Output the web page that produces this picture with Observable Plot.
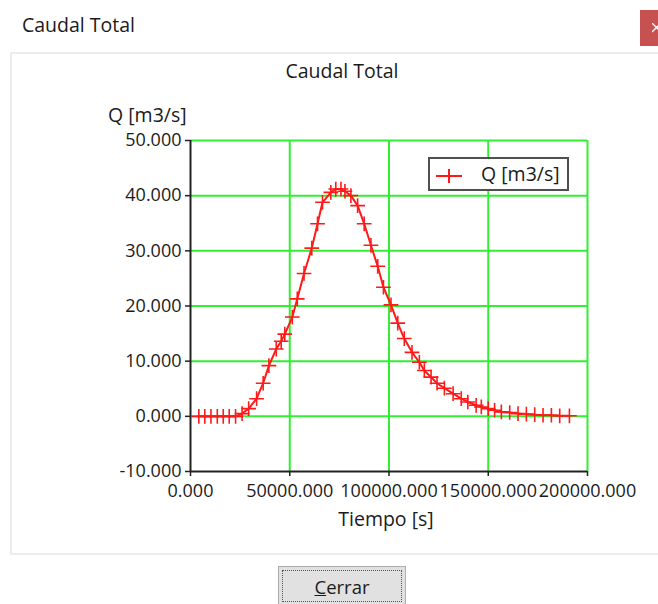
<!DOCTYPE html>
<html><head><meta charset="utf-8">
<script src="https://cdn.jsdelivr.net/npm/d3@7"></script>
<script src="https://cdn.jsdelivr.net/npm/@observablehq/plot@0.6"></script>
<style>
html,body{margin:0;padding:0}
body{width:658px;height:604px;overflow:hidden;background:#fff;position:relative;font-family:"Open Sans",sans-serif;color:#1b1b1b}
.abs{position:absolute;white-space:nowrap}
#wintitle{left:22px;top:12px;font-size:19.5px;line-height:26px}
#close{left:640px;top:10px;width:18px;height:36px;background:#c75050;overflow:hidden}
#close svg{position:absolute;left:12px;top:13px}
#panel{left:10px;top:52px;width:660px;height:503px;border:2px solid #ececec;box-sizing:border-box;background:#fff}
#chart{left:0;top:0}
#ctitle{left:192px;width:300px;text-align:center;top:58px;font-size:19.5px;line-height:26px}
#ylab{left:108px;top:102px;font-size:19.5px;line-height:26px}
#xlab{left:236px;width:300px;text-align:center;top:506px;font-size:19.5px;line-height:26px}
#legend{left:428px;top:157px;width:141px;height:34px;border:2px solid #505050;box-sizing:border-box;background:#fff}
#legend span{position:absolute;left:51px;top:2px;font-size:19.5px;line-height:26px}
#legend svg{position:absolute;left:6px;top:8px}
#btn{left:278px;top:566px;width:128px;height:40px;background:#e1e1e1;border:1px solid #adadad;box-sizing:border-box}
#btn .focus{position:absolute;left:3px;top:3px;right:3px;bottom:3px;border:1px dotted #555}
#btn .txt{position:absolute;left:0;right:0;top:8px;text-align:center;font-size:18.5px;line-height:24px}
</style></head><body>
<div class="abs" id="wintitle">Caudal Total</div>
<div class="abs" id="close"><svg width="10" height="10"><path d="M0,0L9,9M9,0L0,9" stroke="#fff" stroke-width="1.3"/></svg></div>
<div class="abs" id="panel"></div>
<div class="abs" id="chart"></div>
<div class="abs" id="ctitle">Caudal Total</div>
<div class="abs" id="ylab">Q [m3/s]</div>
<div class="abs" id="xlab">Tiempo [s]</div>
<div class="abs" id="legend"><svg width="30" height="16"><line x1="0" y1="9" x2="26" y2="9" stroke="#ff1a1a" stroke-width="2"/><line x1="13" y1="2" x2="13" y2="16" stroke="#ff1a1a" stroke-width="2"/></svg><span>Q [m3/s]</span></div>
<div class="abs" id="btn"><div class="focus"></div><div class="txt"><u>C</u>errar</div></div>
<script>
// Time (s) and total discharge (m3/s)
const tiempo = [4200, 7200, 10300, 13500, 16500, 19500, 22700, 26000, 29300, 33300,
  36600, 39500, 43200, 45700, 47500, 51300, 53800, 57200, 61100, 64000,
  66500, 70700, 73200, 75800, 77800, 80800, 84200, 87500, 90900, 94300,
  97200, 101000, 104400, 107700, 111600, 115300, 117800, 121200, 124200, 127900,
  132300, 136400, 139700, 143900, 146500, 150000, 153200, 156600, 160800, 165000,
  169200, 173400, 177600, 181800, 186000, 190900];
const caudal = [0, 0, 0, 0, 0, 0, 0, 0.5, 1.4, 3.2,
  6.0, 9.2, 12.2, 13.6, 14.9, 18.0, 21.3, 25.9, 30.5, 34.9,
  38.8, 40.6, 41.2, 41.2, 40.8, 40.0, 38.2, 34.9, 31.0, 27.2,
  23.4, 20.2, 16.9, 14.1, 11.6, 9.8, 8.3, 7.1, 6.0, 5.1,
  4.1, 3.2, 2.6, 2.0, 1.7, 1.4, 1.1, 0.8, 0.7, 0.5,
  0.4, 0.3, 0.2, 0.2, 0.1, 0.1];
const xTicks = [0, 50000, 100000, 150000, 200000];
const yTicks = [-10, 0, 10, 20, 30, 40, 50];
const xGrid = [50000, 100000, 150000, 200000];
const yGrid = [0, 10, 20, 30, 40, 50];

const data = tiempo.map((t, i) => ({t, q: caudal[i]}));
const fmt = d => d.toFixed(3);
const chart = Plot.plot({
  width: 658, height: 540,
  marginLeft: 190, marginRight: 71, marginTop: 140, marginBottom: 69,
  style: {background: "transparent", fontFamily: "Open Sans", fontSize: "18px", color: "#1b1b1b", overflow: "visible"},
  x: {domain: [0, 200000], label: null},
  y: {domain: [-10, 50], label: null},
  marks: [
    Plot.ruleX(xGrid, {stroke: "#33ee33", strokeWidth: 2}),
    Plot.ruleY(yGrid, {stroke: "#33ee33", strokeWidth: 2}),
    Plot.axisX({ticks: xTicks, tickFormat: fmt, tickSize: 5, tickPadding: 8, stroke: "#222", strokeWidth: 1.5, fill: "#1b1b1b", fontSize: 18}),
    Plot.axisY({ticks: yTicks, tickFormat: fmt, tickSize: 5, tickPadding: 4, stroke: "#222", strokeWidth: 1.5, fill: "#1b1b1b", fontSize: 18}),
    Plot.ruleX([0], {stroke: "#222", strokeWidth: 2}),
    Plot.ruleY([-10], {stroke: "#222", strokeWidth: 2}),
    Plot.line(data, {x: "t", y: "q", stroke: "#ff1a1a", strokeWidth: 2}),
    Plot.dot(data, {x: "t", y: "q", symbol: "plus", r: 4.8, stroke: "#ff1a1a", strokeWidth: 1.6})
  ]
});
document.getElementById("chart").appendChild(chart);
</script>
</body></html>
